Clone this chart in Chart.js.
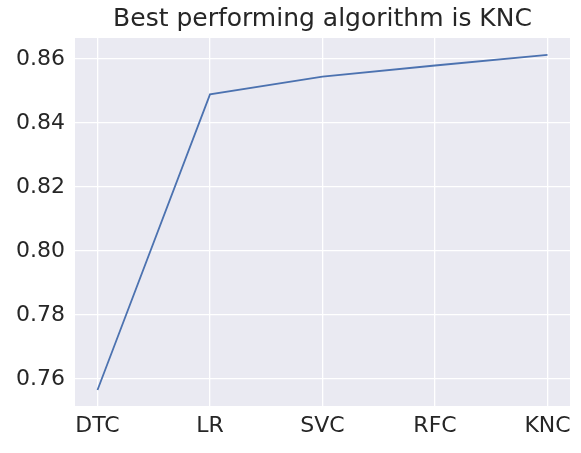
<!DOCTYPE html>
<html>
<head>
<meta charset="utf-8">
<script src="https://cdn.jsdelivr.net/npm/chart.js@4.4.0/dist/chart.umd.min.js"></script>
<style>
  html, body { margin: 0; padding: 0; background: #fff; }
  #wrap { width: 581px; height: 453px; }
</style>
</head>
<body>
<div id="wrap"><canvas id="chart" width="581" height="453"></canvas></div>
<script>
// Data
const algorithms = ['DTC', 'LR', 'SVC', 'RFC', 'KNC'];
const scores = [0.7566, 0.8490, 0.8545, 0.8580, 0.8613];
const yTicks = [0.76, 0.78, 0.80, 0.82, 0.84, 0.86];
const titleText = 'Best performing algorithm is KNC';

const font = "'DejaVu Sans', sans-serif";

// Grey seaborn-like panel behind the plot, title centred over the plot area
const panelBg = {
    id: 'panelBg',
    beforeDraw(chart) {
        const { ctx, chartArea: a } = chart;
        ctx.save();
        ctx.fillStyle = '#EAEAF2';
        ctx.fillRect(a.left, a.top, a.right - a.left, a.bottom - a.top);
        ctx.fillStyle = '#262626';
        ctx.font = '25px ' + font;
        ctx.textAlign = 'center';
        ctx.textBaseline = 'bottom';
        ctx.fillText(titleText, (a.left + a.right) / 2, a.top - 6);
        ctx.restore();
    }
};

new Chart(document.getElementById('chart'), {
    type: 'line',
    data: {
        datasets: [{
            data: scores.map((v, i) => ({ x: i, y: v })),
            borderColor: '#4C72B0',
            borderWidth: 1.8,
            pointRadius: 0,
            tension: 0,
            fill: false
        }]
    },
    options: {
        responsive: false,
        animation: false,
        layout: { padding: { left: 0, right: 11, top: 38, bottom: 0 } },
        plugins: {
            legend: { display: false },
            tooltip: { enabled: false },
            title: { display: false }
        },
        scales: {
            x: {
                type: 'linear',
                min: -0.2,
                max: 4.2,
                afterBuildTicks(scale) {
                    scale.ticks = algorithms.map((_, i) => ({ value: i }));
                },
                afterFit(scale) { scale.height = 47; },
                ticks: {
                    color: '#262626',
                    font: { family: font, size: 22 },
                    padding: 7,
                    callback: (v) => algorithms[v]
                },
                grid: { color: '#FFFFFF', lineWidth: 1.3, drawTicks: false },
                border: { display: false }
            },
            y: {
                min: 0.7516,
                max: 0.8666,
                afterBuildTicks(scale) {
                    scale.ticks = yTicks.map(v => ({ value: v }));
                },
                afterFit(scale) { scale.width = 75; },
                ticks: {
                    color: '#262626',
                    font: { family: font, size: 22 },
                    padding: 10,
                    callback: (v) => v.toFixed(2)
                },
                grid: { color: '#FFFFFF', lineWidth: 1.3, drawTicks: false },
                border: { display: false }
            }
        }
    },
    plugins: [panelBg]
});
</script>
</body>
</html>
